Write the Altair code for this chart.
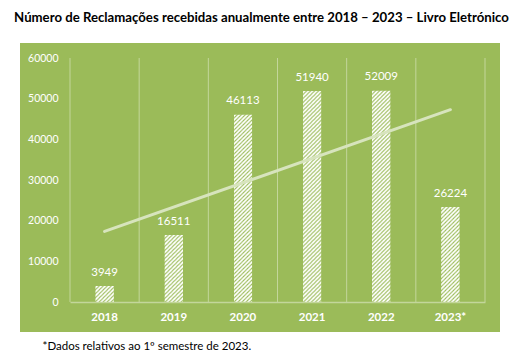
import base64
import altair as alt
import pandas as pd

years = ["2018", "2019", "2020", "2021", "2022", "2023*"]
values = [3949, 16511, 46113, 51940, 52009, 23400]
labels = ["3949", "16511", "46113", "51940", "52009", "26224"]
index = [0, 1, 2, 3, 4, 5]
grid_positions = [-0.5, 0.5, 1.5, 2.5, 3.5, 4.5, 5.5]
y_ticks = [0, 10000, 20000, 30000, 40000, 50000, 60000]

GREEN = "#9BBB59"
GRID = "#C3D69B"
TREND = "#D7E4BD"
FONT = "Lato"

df = pd.DataFrame({"year": years, "value": values, "label": labels, "idx": index})
grid_df = pd.DataFrame({"b": grid_positions})

pattern_svg = (
    "<svg xmlns='http://www.w3.org/2000/svg' width='100%' height='100%'>"
    "<defs><pattern id='h' patternUnits='userSpaceOnUse' width='4' height='4'>"
    "<rect width='4' height='4' fill='#ffffff'/>"
    "<path d='M-1,1 L1,-1 M0,4 L4,0 M3,5 L5,3' stroke='" + GREEN + "' stroke-width='1.0'/>"
    "</pattern></defs><rect width='100%' height='100%' fill='url(#h)'/></svg>"
)
pattern_url = "data:image/svg+xml;base64," + base64.b64encode(pattern_svg.encode()).decode()

base = alt.Chart(df)
idx_scale = alt.Scale(domain=[-0.5, 5.5], nice=False, zero=False)

panel = alt.Chart(alt.Data(values=[{}])).mark_rect(color=GREEN).encode(
    x=alt.value(-50), x2=alt.value(430), y=alt.value(-15), y2=alt.value(274)
)

grid = alt.Chart(grid_df).mark_rule(color=GRID, strokeWidth=1).encode(
    x=alt.X("b:Q", scale=idx_scale, axis=None),
    y=alt.value(0),
    y2=alt.value(244),
)

xband = alt.X(
    "year:N",
    sort=years,
    scale=alt.Scale(paddingInner=0.73, paddingOuter=0.365),
    axis=alt.Axis(
        title="*Dados relativos ao 1º semestre de 2023.",
        titleX=-28, titleY=47, titleAlign="left", titleBaseline="alphabetic",
        titleAnchor="start", titleColor="#000000", titleFont=FONT,
        titleFontSize=11.5, titleFontWeight="normal",
        labelAngle=0, labelColor="#ffffff", labelFont=FONT, labelFontSize=11.5,
        labelFontWeight="bold", labelPadding=9, ticks=False, grid=False,
        domainColor=GRID, domainWidth=1.5, zindex=1,
    ),
)
yq = alt.Y(
    "value:Q",
    scale=alt.Scale(domain=[0, 60000], nice=False),
    axis=alt.Axis(
        title=None, values=y_ticks,
        format="d", labelColor="#ffffff", labelFont=FONT, labelFontSize=10.5,
        labelPadding=12, ticks=False, domain=False, grid=False, zindex=1,
    ),
)

bars = base.mark_image(url=pattern_url, aspect=False).encode(
    x=xband, y=yq, y2=alt.datum(0)
)

text = base.mark_text(
    baseline="bottom", dy=-8, color="#ffffff", font=FONT, fontSize=11.5
).encode(x=xband, y=yq, text="label:N")

trend = base.transform_regression("idx", "value").mark_line(
    color=TREND, strokeWidth=3, strokeCap="round"
).encode(
    x=alt.X("idx:Q", scale=idx_scale, axis=None),
    y=alt.Y("value:Q", scale=alt.Scale(domain=[0, 60000], nice=False)),
)

chart = (
    alt.layer(panel, grid, alt.layer(bars, text), trend)
    .resolve_scale(x="independent")
    .properties(
        width=415,
        height=244,
        padding={"left": 62, "top": 50, "right": 31, "bottom": 50},
        autosize=alt.AutoSizeParams(type="none"),
        title=alt.TitleParams(
            "Número de Reclamações recebidas anualmente entre 2018 – 2023 – Livro Eletrónico",
            font=FONT, fontSize=13.2, fontWeight="bold", color="#000000",
            anchor="middle", dx=-16, offset=18,
        ),
    )
    .configure_view(stroke=None)
)

chart.save("out.html", embed_options={"renderer": "svg", "actions": False})
